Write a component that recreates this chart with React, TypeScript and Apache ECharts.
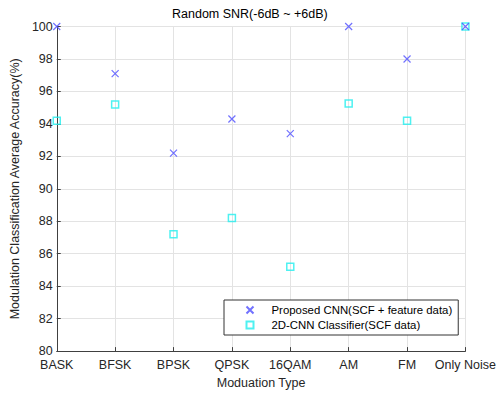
import React, { useEffect, useRef } from "react";
import * as echarts from "echarts";

const categories = ["BASK", "BFSK", "BPSK", "QPSK", "16QAM", "AM", "FM", "Only Noise"];
const proposedCnn = [100, 97.1, 92.2, 94.3, 93.4, 100, 98, 100];
const cnn2d = [94.2, 95.2, 87.2, 88.2, 85.2, 95.25, 94.2, 100];
const seriesNames = ["Proposed CNN(SCF + feature data)", "2D-CNN Classifier(SCF data)"];
const yMin = 80;
const yMax = 100;
const yStep = 2;

const CROSS = "path://M0,0L10,10M10,0L0,10";
const FONT = "Liberation Sans, Arial, sans-serif";
const INK = "#262626";

export default function App() {
  const ref = useRef<HTMLDivElement>(null);

  useEffect(() => {
    if (!ref.current) return;
    const chart = echarts.init(ref.current, undefined, { renderer: "svg" });
    chart.setOption({
      animation: false,
      backgroundColor: "#ffffff",
      title: {
        text: "Random SNR(-6dB ~ +6dB)",
        left: 172,
        top: 7,
        padding: 0,
        textStyle: { fontFamily: FONT, fontSize: 12.5, fontWeight: "normal", color: "#000" },
      },
      grid: { left: 53, right: 32, top: 26.5, bottom: 40.5, containLabel: false },
      xAxis: {
        type: "category",
        data: categories,
        boundaryGap: false,
        name: "Moduation Type",
        nameLocation: "middle",
        nameGap: 24,
        nameTextStyle: { fontFamily: FONT, fontSize: 12.5, color: INK },
        axisLine: { show: true, lineStyle: { color: "#404040", width: 1 } },
        axisTick: { show: true, inside: true, length: 4, alignWithLabel: true, lineStyle: { color: "#404040" } },
        axisLabel: { fontFamily: FONT, fontSize: 12.5, color: INK, margin: 7, interval: 0 },
        splitLine: { show: true, lineStyle: { color: "#e3e3e3", width: 1 } },
      },
      yAxis: {
        type: "value",
        min: yMin,
        max: yMax,
        interval: yStep,
        name: "Modulation Classification Average Accuracy(%)",
        nameLocation: "middle",
        nameGap: 32,
        nameTextStyle: { fontFamily: FONT, fontSize: 12.5, color: INK },
        axisLine: { show: true, lineStyle: { color: "#404040", width: 1 } },
        axisTick: { show: true, inside: true, length: 4, lineStyle: { color: "#404040" } },
        axisLabel: { fontFamily: FONT, fontSize: 12.5, color: INK, margin: 4 },
        splitLine: { show: true, lineStyle: { color: "#e3e3e3", width: 1 } },
      },
      legend: {
        orient: "vertical",
        left: 224,
        top: 300,
        padding: [3, 6, 3, 20],
        itemGap: 1,
        itemWidth: 7,
        itemHeight: 7,
        backgroundColor: "#ffffff",
        borderColor: "#333333",
        borderWidth: 1,
        borderRadius: 0,
        textStyle: { fontFamily: FONT, fontSize: 11.4, color: "#000", lineHeight: 14, padding: [0, 0, 0, 13] },
        data: seriesNames,
      },
      series: [
        {
          name: seriesNames[0],
          type: "scatter",
          data: proposedCnn,
          symbol: CROSS,
          symbolSize: 7,
          itemStyle: { color: "none", borderColor: "#4d4dff", borderWidth: 1.2 },
          z: 3,
        },
        {
          name: seriesNames[1],
          type: "scatter",
          data: cnn2d,
          symbol: "rect",
          symbolSize: 7,
          itemStyle: { color: "none", borderColor: "#22eeee", borderWidth: 1.5 },
          z: 2,
        },
      ],
    });
    return () => chart.dispose();
  }, []);

  return <div ref={ref} style={{ width: 499, height: 394, position: "absolute", left: 0, top: 0 }} />;
}
